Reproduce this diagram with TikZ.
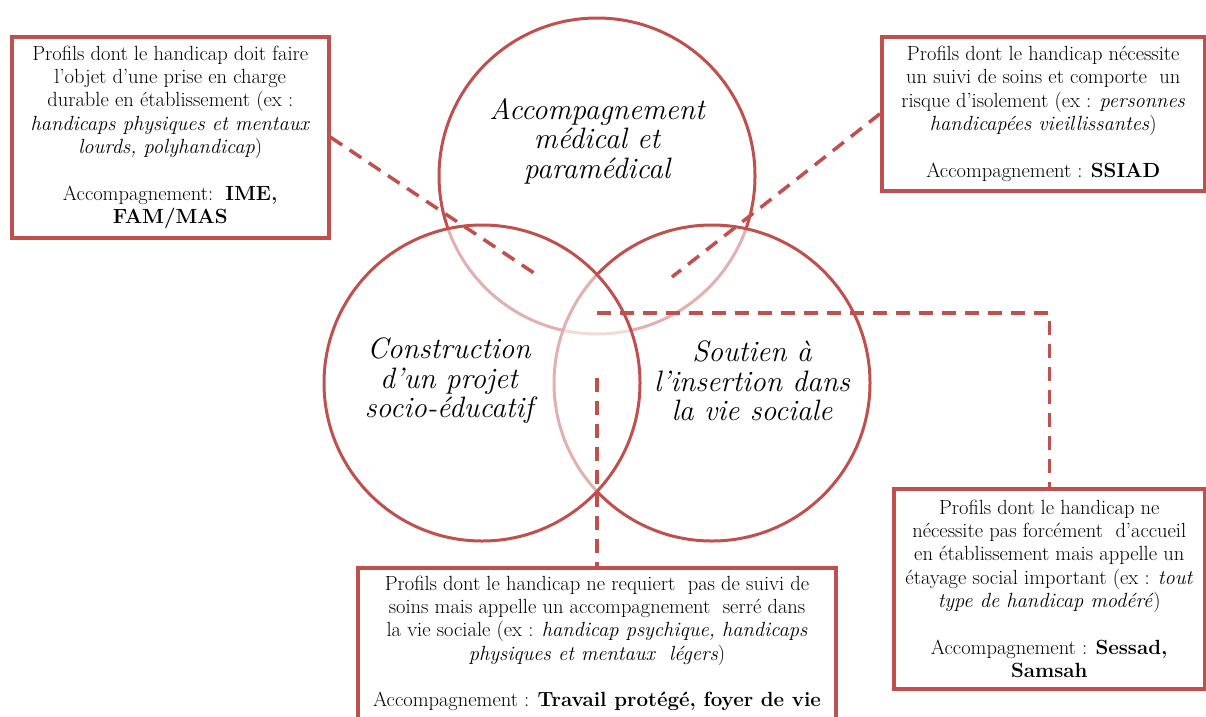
\documentclass[tikz,border=0pt]{standalone}
\usepackage{fontspec}
\definecolor{accentred}{HTML}{C0504D}

\tikzset{%
  every zone/.style={
    circle,
    draw=accentred,
    line width=3pt,
    fill=white,
    fill opacity=0.55,
    minimum size=316pt
  },
  zone label/.style={
    align=center,
    font=\fontsize{29.5}{29.5}\selectfont\itshape\addfontfeatures{FakeBold=1.2}
  },
  profile box/.style={
    draw=accentred,
    line width=3.5pt,
    align=center,
    inner sep=0pt,
    font=\fontsize{20.5}{23.3}\selectfont\addfontfeatures{FakeBold=0.6}
  },
  link/.style={
    draw=accentred,
    line width=3.5pt,
    dash pattern=on 14pt off 9pt
  },
}

\begin{document}
\begin{tikzpicture}[x=1pt, y=-1pt]

            \useasboundingbox (0,0) rectangle (1206,716);
            \clip (0,0) rectangle (1206,716);

            % the three zones, drawn top, right, left
            \foreach \z/\p in {top/{597,176}, right/{712,383}, left/{482,383}}
              \node [every zone] (zone-\z) at (\p) {};

            \node [zone label] (label-top) at (597,141) {Accompagnement\\médical et\\paramédical};
            \node [zone label] (label-left) at (449,381) {Construction\\d’un projet\\socio-éducatif};
            \node [zone label] (label-right) at (752,381) {Soutien à\\l’insertion dans\\la vie sociale};

            % profile boxes
            \node [profile box, anchor=north west, minimum width=317pt, minimum height=201pt] (lbox) at (10,35)
              {Profils dont le handicap doit faire\\l’objet d’une prise en charge\\durable en établissement (ex :\\
               \textit{handicaps physiques et mentaux}\\\textit{lourds, polyhandicap})\\[23.3pt]
               Accompagnement:\ \ \textbf{IME,}\\\textbf{FAM/MAS}};

            \node [profile box, anchor=north west, minimum width=323pt, minimum height=154pt] (rbox) at (880,35)
              {Profils dont le handicap nécessite\\un suivi de soins et comporte\ \ un\\
               risque d’isolement (ex : \textit{personnes}\\\textit{handicapées vieillissantes})\\[23.3pt]
               Accompagnement : \textbf{SSIAD}};

            \node [profile box, anchor=north west, minimum width=311pt, minimum height=200pt] (srbox) at (892,487)
              {Profils dont le handicap ne\\nécessite pas forcément\ \ d’accueil\\en établissement mais appelle un\\
               étayage social important (ex : \textit{tout}\\\textit{type de handicap modéré})\\[23.3pt]
               Accompagnement : \textbf{Sessad,}\\\textbf{Samsah}};

            \node [profile box, anchor=north, minimum width=478pt, inner ysep=8pt] (bbox) at (597,566)
              {Profils dont le handicap ne requiert\ \ pas de suivi de\\soins mais appelle un accompagnement\ \ serré dans\\
               la vie sociale (ex : \textit{handicap psychique, handicaps}\\\textit{physiques et mentaux\ \ légers})\\[23.3pt]
               Accompagnement : \textbf{Travail protégé, foyer de vie}\\ \mbox{}\\ \mbox{}};

            % dashed links from the boxes into the overlaps
            \coordinate (med-soc) at (540,277);
            \coordinate (med-ins) at (672,277);
            \coordinate (ins-top) at (597,313);
            \coordinate (soc-ins) at (597,378);

            \draw [link] (lbox.east) -- (med-soc);
            \draw [link] (rbox.west) -- (med-ins);
            \draw [link] (ins-top) -| (srbox.north);
            \draw [link] (soc-ins) -- (bbox.north);

        \end{tikzpicture}
\end{document}
